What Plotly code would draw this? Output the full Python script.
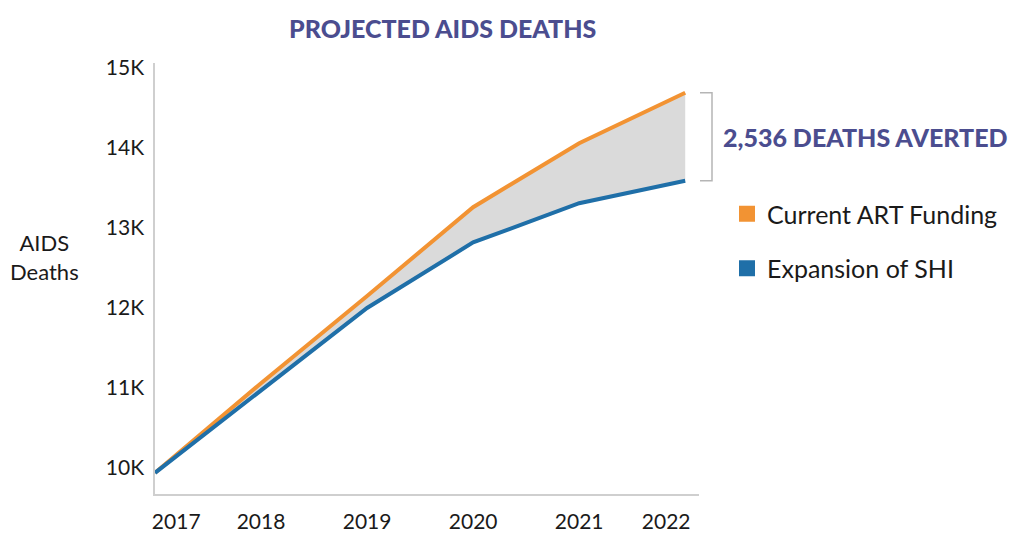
import plotly.graph_objects as go

years = [2017, 2018, 2019, 2020, 2021, 2022]
current_art = [9940, 11060, 12150, 13260, 14060, 14690]
expansion_shi = [9940, 10975, 12000, 12820, 13310, 13590]
y_tick_vals = [10000, 11000, 12000, 13000, 14000, 15000]
y_tick_text = ["10K", "11K", "12K", "13K", "14K", "15K"]
x_tick_pos = [2017.2, 2018, 2019, 2020, 2021, 2021.82]
x_tick_text = ["2017", "2018", "2019", "2020", "2021", "2022"]
averted_label = "2,536 DEATHS AVERTED"

ORANGE = "#F29333"
BLUE = "#1F6FA8"
GRAY_FILL = "#DADADA"
TITLE_C = "#4B4D8F"
FONT = "Lato, 'Open Sans', sans-serif"
# the page body adds an 8px margin, so the figure is sized to fit the window
OFF = 8
W, H = 1024 - OFF, 533 - OFF


def px_x(p):
    return (p - OFF) / W


def px_y(p):
    return 1 - (p - OFF) / H


fig = go.Figure()
fig.add_trace(go.Scatter(x=years, y=current_art, mode="lines",
                         line=dict(color=ORANGE, width=4), showlegend=False,
                         hoverinfo="skip"))
fig.add_trace(go.Scatter(x=years, y=expansion_shi, mode="lines",
                         line=dict(color=BLUE, width=4), fill="tonexty",
                         fillcolor=GRAY_FILL, showlegend=False, hoverinfo="skip"))
# legend entries
fig.add_trace(go.Scatter(x=[None], y=[None], mode="markers", name="Current ART Funding",
                         marker=dict(symbol="square", size=21, color=ORANGE),
                         legendgroup="a"))
fig.add_trace(go.Scatter(x=[None], y=[None], mode="markers", name="Expansion of SHI",
                         marker=dict(symbol="square", size=21, color=BLUE),
                         legendgroup="b"))

fig.update_layout(
    width=W, height=H,
    margin=dict(l=0, r=0, t=0, b=0),
    paper_bgcolor="white", plot_bgcolor="white",
    font=dict(family=FONT, color="#1a1a1a", size=20),
    xaxis=dict(domain=[px_x(155), px_x(699)], range=[2017, 2022.13],
               showgrid=False, zeroline=False, automargin=False,
               showline=True, linecolor="#cfcfcf", linewidth=1.5,
               tickvals=x_tick_pos, ticktext=x_tick_text, ticks="",
               ticklabelstandoff=8, tickfont=dict(size=21)),
    yaxis=dict(domain=[px_y(494), px_y(63)], range=[9675, 15062.5],
               showgrid=False, zeroline=False, automargin=False,
               showline=True, linecolor="#cfcfcf", linewidth=1.5,
               tickvals=y_tick_vals, ticktext=y_tick_text, ticks="",
               ticklabelstandoff=5, tickfont=dict(size=21)),
    legend=dict(x=px_x(727), xanchor="left", y=px_y(191), yanchor="top",
                font=dict(size=25, family=FONT), tracegroupgap=19,
                bgcolor="rgba(0,0,0,0)"),
    showlegend=True,
)

# chart title
fig.add_annotation(text="PROJECTED AIDS DEATHS", xref="paper", yref="paper",
                   x=px_x(442), y=px_y(11), xanchor="center", yanchor="top",
                   showarrow=False,
                   font=dict(family=FONT, size=25, color=TITLE_C, weight=900))

# y axis title (horizontal)
fig.add_annotation(text="AIDS<br>Deaths", xref="paper", yref="paper",
                   x=px_x(44), y=px_y(257), xanchor="center", yanchor="middle",
                   showarrow=False, font=dict(size=22, family=FONT), align="center")

# bracket around gap in 2022
y_top = current_art[-1]
y_bot = expansion_shi[-1]
bx0, bx1 = px_x(700), px_x(712)
fig.add_shape(type="path", xref="paper", yref="y",
              path=f"M {bx0},{y_top} L {bx1},{y_top} L {bx1},{y_bot} L {bx0},{y_bot}",
              line=dict(color="#b5b5b5", width=1.5))
fig.add_annotation(text=averted_label, xref="paper", yref="y",
                   x=px_x(721), y=(y_top + y_bot) / 2, xanchor="left", yanchor="middle",
                   showarrow=False,
                   font=dict(size=25, family=FONT, color=TITLE_C, weight=900))

fig.write_html("out.html")
